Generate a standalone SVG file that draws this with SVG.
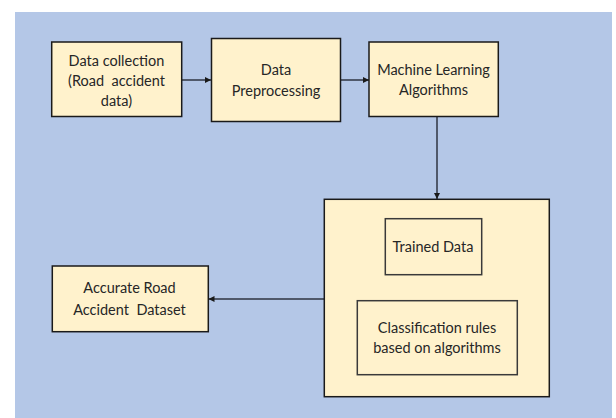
<svg xmlns="http://www.w3.org/2000/svg" width="616" height="418" viewBox="0 0 616 418">
<defs>
<style>
.box{fill:#FFF2CC;stroke:#1a1a1a;stroke-width:1.5}
.inner{fill:#FFF2CC;stroke:#3a3a3a;stroke-width:1.5}
.lbl{font-family:Lato,"Liberation Sans",sans-serif;font-size:14.5px;fill:#262626;text-anchor:middle}
.conn{stroke:#2f3542;stroke-width:1.5;fill:none;marker-end:url(#ah)}
</style>
<marker id="ah" viewBox="0 0 10 10" refX="10" refY="5" markerWidth="4" markerHeight="4" orient="auto" markerUnits="strokeWidth">
<path d="M0,0 L10,5 L0,10 z" fill="#1a1a1a"/>
</marker>
</defs>
<rect x="0" y="0" width="616" height="418" fill="#ffffff"/>
<rect x="15" y="12" width="597" height="406" fill="#B4C7E7"/>
<g id="connectors">
<line class="conn" x1="181" y1="80" x2="211" y2="80"/>
<line class="conn" x1="340" y1="80" x2="369" y2="80"/>
<line class="conn" x1="437" y1="116.5" x2="437" y2="199"/>
<line class="conn" x1="324" y1="299" x2="208.5" y2="299"/>
</g>
<g id="data-collection">
<rect class="box" x="51.7" y="42" width="130" height="74.5"/>
<text class="lbl" x="116.5" y="65.7">Data collection</text>
<text class="lbl" x="116.5" y="86" xml:space="preserve">(Road  accident</text>
<text class="lbl" x="116.5" y="106">data)</text>
</g>
<g id="data-preprocessing">
<rect class="box" x="211.5" y="38.5" width="129" height="83"/>
<text class="lbl" x="276" y="74.5">Data</text>
<text class="lbl" x="276" y="95.5">Preprocessing</text>
</g>
<g id="ml-algorithms">
<rect class="box" x="369" y="42" width="129.3" height="74.5"/>
<text class="lbl" x="433.5" y="74.7">Machine Learning</text>
<text class="lbl" x="433.5" y="95.3">Algorithms</text>
</g>
<g id="model">
<rect class="box" x="324.3" y="199.3" width="225" height="197.4"/>
<g id="trained-data">
<rect class="inner" x="385.3" y="218.7" width="96.4" height="56"/>
<text class="lbl" x="433" y="252.3">Trained Data</text>
</g>
<g id="classification-rules">
<rect class="inner" x="357.3" y="300.7" width="160" height="74"/>
<text class="lbl" x="437" y="332.7">Classification rules</text>
<text class="lbl" x="437" y="352.7">based on algorithms</text>
</g>
</g>
<g id="accurate-dataset">
<rect class="box" x="52.3" y="266" width="156" height="65.7"/>
<text class="lbl" x="129.5" y="293.3">Accurate Road</text>
<text class="lbl" x="129.5" y="315" xml:space="preserve">Accident  Dataset</text>
</g>
</svg>
